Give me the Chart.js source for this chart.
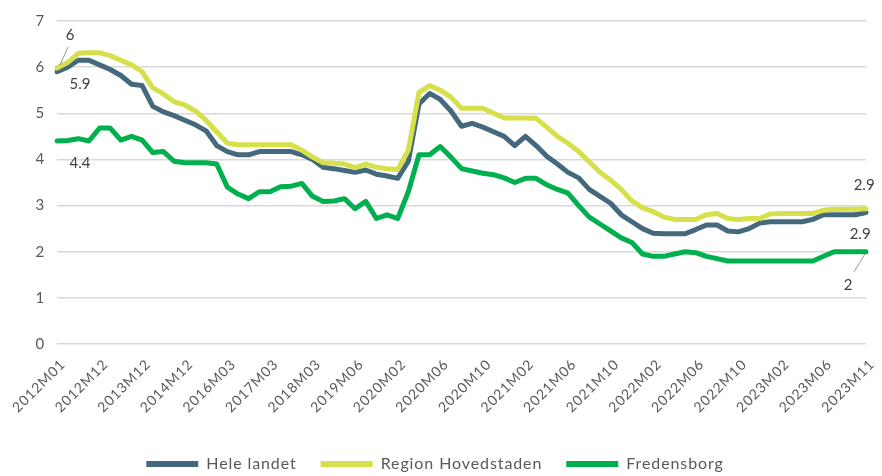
<!DOCTYPE html>
<html>
<head>
<meta charset="utf-8">
<script src="https://cdn.jsdelivr.net/npm/chart.js@4/dist/chart.umd.min.js"></script>
<style>
  html, body { margin: 0; padding: 0; background: #fff; }
  #wrap { width: 882px; height: 476px; position: relative; }
</style>
</head>
<body>
<div id="wrap"><canvas id="ledighedChart"></canvas></div>
<script>
// tick labels shown on the x axis (every 4th observation)
const tickLabels = ['2012M01', '2012M12', '2013M12', '2014M12', '2016M03', '2017M03', '2018M03',
    '2019M06', '2020M02', '2020M06', '2020M10', '2021M02', '2021M06', '2021M10', '2022M02',
    '2022M06', '2022M10', '2023M02', '2023M06', '2023M11'];

const seriesNames = ['Hele landet', 'Region Hovedstaden', 'Fredensborg'];

const heleLandet = [5.9, 6.0, 6.15, 6.15, 6.05, 5.95, 5.82, 5.63, 5.6, 5.15,
    5.03, 4.95, 4.85, 4.75, 4.62, 4.3, 4.17, 4.1, 4.1, 4.17,
    4.17, 4.17, 4.17, 4.1, 4.0, 3.83, 3.8, 3.76, 3.72, 3.77,
    3.68, 3.64, 3.59, 3.96, 5.2, 5.43, 5.3, 5.05, 4.72, 4.78,
    4.7, 4.6, 4.5, 4.3, 4.5, 4.3, 4.07, 3.9, 3.72, 3.6,
    3.35, 3.2, 3.05, 2.8, 2.65, 2.5, 2.4, 2.39, 2.39, 2.39,
    2.48, 2.58, 2.58, 2.45, 2.43, 2.5, 2.62, 2.65, 2.65, 2.65,
    2.65, 2.7, 2.8, 2.8, 2.8, 2.8, 2.85];

const regionHovedstaden = [5.98, 6.1, 6.3, 6.31, 6.31, 6.25, 6.15, 6.05, 5.9, 5.55,
    5.42, 5.25, 5.18, 5.05, 4.85, 4.6, 4.35, 4.32, 4.32, 4.32,
    4.32, 4.32, 4.32, 4.2, 4.05, 3.93, 3.92, 3.9, 3.82, 3.9,
    3.83, 3.8, 3.78, 4.2, 5.45, 5.6, 5.5, 5.35, 5.11, 5.11,
    5.11, 5.0, 4.9, 4.9, 4.9, 4.89, 4.7, 4.5, 4.35, 4.17,
    3.95, 3.72, 3.55, 3.35, 3.1, 2.95, 2.87, 2.75, 2.7, 2.7,
    2.7, 2.8, 2.83, 2.72, 2.7, 2.72, 2.72, 2.82, 2.83, 2.83,
    2.83, 2.83, 2.9, 2.92, 2.92, 2.92, 2.93];

const fredensborg = [4.4, 4.41, 4.45, 4.4, 4.68, 4.68, 4.42, 4.5, 4.42, 4.15,
    4.17, 3.96, 3.93, 3.93, 3.93, 3.9, 3.4, 3.25, 3.15, 3.3,
    3.3, 3.41, 3.42, 3.48, 3.2, 3.09, 3.1, 3.15, 2.93, 3.09,
    2.72, 2.8, 2.72, 3.3, 4.1, 4.1, 4.28, 4.05, 3.8, 3.75,
    3.7, 3.67, 3.6, 3.5, 3.59, 3.59, 3.45, 3.35, 3.27, 3.0,
    2.75, 2.6, 2.45, 2.3, 2.2, 1.95, 1.9, 1.9, 1.95, 2.0,
    1.98, 1.9, 1.85, 1.8, 1.8, 1.8, 1.8, 1.8, 1.8, 1.8,
    1.8, 1.8, 1.9, 2.0, 2.0, 2.0, 2.0];

const yTicks = [0, 1, 2, 3, 4, 5, 6, 7];

// every 4th category carries a tick label, the others are blank
const categories = heleLandet.map((v, i) => i % 4 === 0 ? tickLabels[i / 4] : '');

// excel spreads its letters a bit, do the same on the canvas
const spacing = {
    id: 'spacing',
    beforeLayout(chart) { chart.ctx.letterSpacing = '0.9px'; },
    beforeDraw(chart) { chart.ctx.letterSpacing = '0.9px'; }
};

//labels on first and last point, like the excel data labels
const endLabels = {
    id: 'endLabels',
    afterDatasetsDraw(chart) {
        const ctx = chart.ctx;
        const spots = [
            // dataset, point, text, dx, dy, leader
            [1, 'first', '6', 13, -33, true],
            [0, 'first', '5.9', 23, 12, false],
            [2, 'first', '4.4', 23, 22, false],
            [1, 'last', '2.9', -2, -24, false],
            [0, 'last', '2.9', -6, 22, false],
            [2, 'last', '2', -18, 33, true]
        ];
        ctx.save();
        ctx.letterSpacing = '0px';
        ctx.font = '15px Lato';
        ctx.fillStyle = '#404040';
        ctx.textAlign = 'center';
        ctx.textBaseline = 'middle';
        spots.forEach(s => {
            const meta = chart.getDatasetMeta(s[0]);
            const pt = s[1] === 'first' ? meta.data[0] : meta.data[meta.data.length - 1];
            const tx = pt.x + s[3], ty = pt.y + s[4];
            if (s[5]) {
                ctx.strokeStyle = '#7f7f7f';
                ctx.lineWidth = 0.8;
                ctx.beginPath();
                ctx.moveTo(pt.x + (s[3] > 0 ? 3 : -1), pt.y + (s[4] > 0 ? 2 : -3));
                ctx.lineTo(tx + (s[3] > 0 ? -2 : 6), ty + (s[4] > 0 ? -13 : 12));
                ctx.stroke();
            }
            ctx.fillText(s[2], tx, ty);
        });
        ctx.restore();
    }
};

const ctx = document.getElementById('ledighedChart');

const chart = new Chart(ctx, {
    type: 'line',
    data: {
        labels: categories,
        datasets: [{
            label: seriesNames[0],
            data: heleLandet,
            borderColor: '#44697d',
            backgroundColor: '#44697d',
            order: 1
        }, {
            label: seriesNames[1],
            data: regionHovedstaden,
            borderColor: '#d6e04a',
            backgroundColor: '#d6e04a',
            order: 0
        }, {
            label: seriesNames[2],
            data: fredensborg,
            borderColor: '#00b04f',
            backgroundColor: '#00b04f',
            order: 2
        }]
    },
    options: {
        responsive: true,
        maintainAspectRatio: false,
        animation: false,
        elements: {
            line: { borderWidth: 5, tension: 0, borderJoinStyle: 'round', borderCapStyle: 'round' },
            point: { radius: 0 }
        },
        layout: { padding: { left: 0, right: 12, top: 15, bottom: -6 } },
        scales: {
            x: {
                grid: { display: false },
                border: { display: false },
                ticks: {
                    autoSkip: false,
                    minRotation: 45,
                    maxRotation: 45,
                    padding: 4,
                    labelOffset: 6,
                    color: '#595959',
                    font: { family: 'Lato', size: 14 }
                },
                afterFit(scale) { scale.height = 88; }
            },
            y: {
                min: 0,
                max: 7,
                afterBuildTicks(scale) { scale.ticks = yTicks.map(v => ({ value: v })); },
                grid: { color: '#d9d9d9', lineWidth: 1.5, drawTicks: false },
                border: { display: false },
                ticks: {
                    padding: 12,
                    color: '#595959',
                    font: { family: 'Lato', size: 15 }
                },
                afterFit(scale) { scale.width = 57; }
            }
        },
        plugins: {
            tooltip: { enabled: false },
            legend: {
                position: 'bottom',
                labels: {
                    boxWidth: 52,
                    boxHeight: 6,
                    padding: 24,
                    color: '#595959',
                    font: { family: 'Lato', size: 16 },
                    sort: (a, b) => a.datasetIndex - b.datasetIndex,
                    generateLabels(chart) {
                        const items = Chart.defaults.plugins.legend.labels.generateLabels(chart);
                        items.forEach(it => { it.lineWidth = 0; it.fillStyle = it.strokeStyle; });
                        return items;
                    }
                }
            }
        }
    },
    plugins: [spacing, endLabels]
});
</script>
</body>
</html>
